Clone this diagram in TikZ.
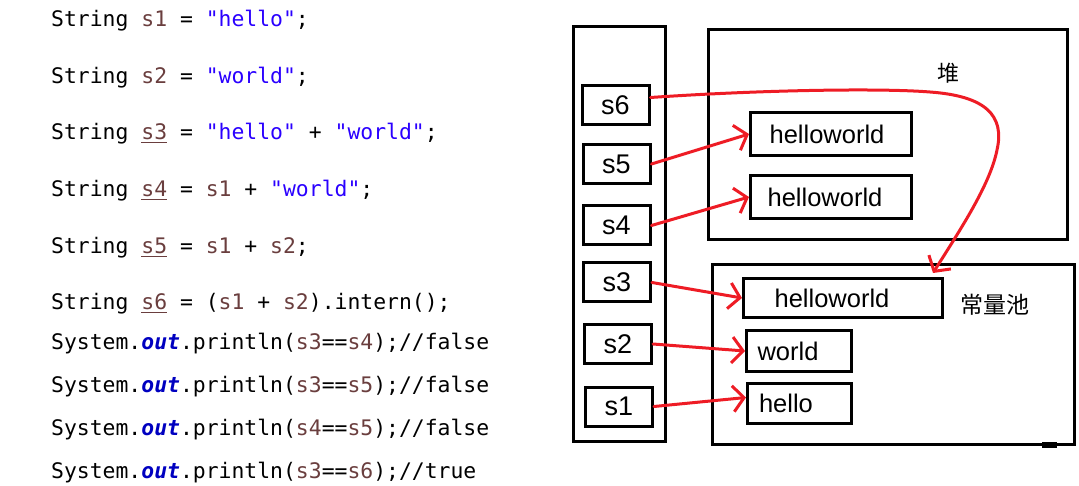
\documentclass[tikz,border=0pt]{standalone}
\usepackage{fontspec}
\setmonofont{DejaVu Sans Mono}
\newfontfamily\labfont{Liberation Sans}
\newfontfamily\cjkfont{Noto Sans CJK SC}
\usetikzlibrary{arrows.meta}
\definecolor{varc}{HTML}{6A3E3E}
\definecolor{strc}{HTML}{2A00FF}
\definecolor{fldc}{HTML}{0000C0}
\definecolor{arrc}{HTML}{EE1C25}
\newcommand{\cvar}[1]{\textcolor{varc}{#1}}
\newcommand{\cvarU}[1]{\textcolor{varc}{\underline{#1}}}
\newcommand{\cstr}[1]{\textcolor{strc}{#1}}
\newcommand{\cfld}[1]{\textcolor{fldc}{\textbf{\textit{#1}}}}
\tikzset{
  code/.style={anchor=base west, inner sep=0pt, font=\ttfamily\fontsize{21.4}{26}\selectfont},
  box/.style={draw, line width=3pt, inner sep=0pt},
  sbox/.style={box, minimum width=67pt, minimum height=39pt, font=\labfont\fontsize{27}{30}\selectfont},
  wbox/.style={box, font=\labfont\fontsize{25.5}{30}\selectfont},
  arr/.style={draw=arrc, line width=3pt, line cap=round, line join=round, -{Straight Barb[length=11pt,width=26pt]}},
}
\begin{document}
\begin{tikzpicture}[x=1pt,y=-1pt]
\useasboundingbox (0,0) rectangle (1079,486);
% code
\node[code] (c1) at (51,27) {String \cvar{s1} = \cstr{"hello"};};
\node[code] (c2) at (51,84) {String \cvar{s2} = \cstr{"world"};};
\node[code] (c3) at (51,140) {String \cvarU{s3} = \cstr{"hello"} + \cstr{"world"};};
\node[code] (c4) at (51,197) {String \cvarU{s4} = \cvar{s1} + \cstr{"world"};};
\node[code] (c5) at (51,254) {String \cvarU{s5} = \cvar{s1} + \cvar{s2};};
\node[code] (c6) at (51,310) {String \cvarU{s6} = (\cvar{s1} + \cvar{s2}).intern();};
\node[code] (c7) at (51,349) {System.\cfld{out}.println(\cvar{s3}==\cvar{s4});//false};
\node[code] (c8) at (51,392) {System.\cfld{out}.println(\cvar{s3}==\cvar{s5});//false};
\node[code] (c9) at (51,435) {System.\cfld{out}.println(\cvar{s4}==\cvar{s5});//false};
\node[code] (c10) at (51,478) {System.\cfld{out}.println(\cvar{s3}==\cvar{s6});//true};
% containers
\node[box, minimum width=92pt, minimum height=414pt] (stack) at (619,234) {};
\node[box, minimum width=359pt, minimum height=210pt] (heap) at (888,134.5) {};
\node[box, minimum width=362pt, minimum height=180pt] (pool) at (893.5,354.5) {};
\fill (1042,442) rectangle (1057,448);
\node[font=\cjkfont\fontsize{22}{26}\selectfont] (heaplab) at (948,73) {堆};
\node[font=\cjkfont\fontsize{23}{26}\selectfont] (poollab) at (995,305) {常量池};
% stack refs
\node[sbox] (s6) at (615.5,105.5) {s6};
\node[sbox] (s5) at (616.5,164) {s5};
\node[sbox] (s4) at (616.5,225.5) {s4};
\node[sbox] (s3) at (617,282.5) {s3};
\node[sbox] (s2) at (618,344) {s2};
\node[sbox] (s1) at (619,406.5) {s1};
% objects
\node[wbox, minimum width=161pt, minimum height=43pt] (hw1) at (831,134) {helloworld\hspace*{8pt}};
\node[wbox, minimum width=161pt, minimum height=43pt] (hw2) at (831,197) {helloworld\hspace*{12pt}};
\node[wbox, minimum width=199pt, minimum height=39pt] (hw3) at (843,298) {helloworld\hspace*{22pt}};
\node[wbox, minimum width=105pt, minimum height=41pt] (world) at (799,351) {world\hspace*{22pt}};
\node[wbox, minimum width=104pt, minimum height=40pt] (hello) at (799.5,403.5) {hello\hspace*{27pt}};
\coordinate (t6) at (933,273);
% arrows
\draw[arr] ([yshift=8pt]s6.east) .. controls (760,90) and (880,88) .. (930,92)
  .. controls (985,96) and (1005,115) .. (997,150)
  .. controls (990,185) and (960,230) .. (t6);
\draw[arr] (s5.east) -- (hw1.west);
\draw[arr] (s4.east) -- (hw2.west);
\draw[arr] (s3.east) -- (hw3.west);
\draw[arr] (s2.east) -- (world.west);
\draw[arr] (s1.east) -- ([yshift=6pt]hello.west);
\end{tikzpicture}
\end{document}
